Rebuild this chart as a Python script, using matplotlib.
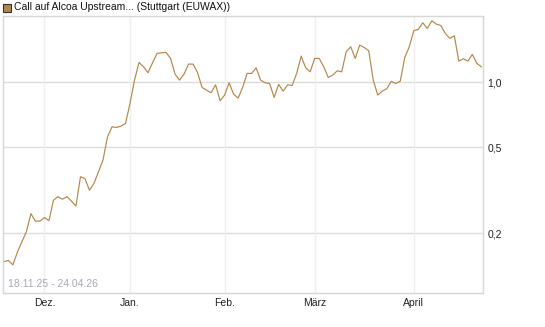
import numpy as np
import matplotlib.pyplot as plt
from matplotlib.patches import Rectangle

plt.rcParams['font.family'] = ['Liberation Sans', 'DejaVu Sans']

# daily closing values (one per trading day, 18.11.25 - 24.04.26)
values = [0.148, 0.150, 0.143, 0.164, 0.183, 0.204, 0.247, 0.228, 0.228, 0.237,
          0.229, 0.285, 0.296, 0.288, 0.296, 0.282, 0.268, 0.366, 0.359, 0.317,
          0.341, 0.386, 0.437, 0.560, 0.623, 0.619, 0.628, 0.646, 0.799, 1.025,
          1.238, 1.182, 1.109, 1.233, 1.362, 1.372, 1.377, 1.292, 1.093, 1.025,
          1.093, 1.216, 1.216, 1.109, 0.948, 0.921, 0.896, 0.975, 0.823, 0.874,
          0.996, 0.883, 0.846, 0.948, 1.101, 1.101, 1.169, 1.025, 0.996, 0.989,
          0.852, 0.979, 0.912, 0.975, 0.968, 1.101, 1.324, 1.169, 1.120, 1.292,
          1.292, 1.182, 1.055, 1.081, 1.132, 1.120, 1.387, 1.463, 1.292, 1.489,
          1.452, 1.402, 1.025, 0.874, 0.912, 0.935, 1.011, 0.989, 1.014, 1.305,
          1.463, 1.735, 1.760, 1.889, 1.778, 1.930, 1.862, 1.836, 1.686, 1.599,
          1.645, 1.255, 1.287, 1.255, 1.348, 1.225, 1.182]

# first trading day of each month (index into values)
month_idx = [9, 28, 49, 69, 91]
month_labels = ['Dez.', 'Jan.', 'Feb.', 'März', 'April']

y_ticks = [0.2, 0.5, 1.0]
y_labels = ['0,2', '0,5', '1,0']

title = 'Call auf Alcoa Upstream... (Stuttgart (EUWAX))'
date_range = '18.11.25 - 24.04.26'
line_color = '#b5874a'

fig = plt.figure(figsize=(5.45, 3.27), dpi=100)
ax = fig.add_axes([0.0055, 0.104, 0.881, 0.847])

x = np.arange(len(values))
ax.plot(x, values, color=line_color, linewidth=0.85)

ax.set_yscale('log')
ax.set_ylim(0.106, 2.03)
ax.set_xlim(-0.2, 106.4)

ax.set_yticks(y_ticks)
ax.set_yticklabels(y_labels)
ax.yaxis.set_minor_locator(plt.NullLocator())
ax.yaxis.tick_right()
ax.set_xticks(month_idx)
ax.set_xticklabels(month_labels)
ax.tick_params(axis='both', length=0, labelsize=7.5, colors='#222222')
ax.tick_params(axis='y', pad=3)
ax.tick_params(axis='x', pad=3.5)

for v in y_ticks:
    ax.axhline(v, color='#dcdcdc', linewidth=1.0, zorder=0)
for m in month_idx:
    ax.axvline(m, color='#efefef', linewidth=1.0, zorder=0)

for s in ax.spines.values():
    s.set_color('#d6d6d6')
    s.set_linewidth(1.0)

ax.text(0.011, 0.015, date_range, transform=ax.transAxes, fontsize=7.5,
        color='#a8a8b8', ha='left', va='bottom')

# legend box at the top
fig.patches.append(Rectangle((3 / 545, 1 - 12 / 327), 8 / 545, 8 / 327,
                             transform=fig.transFigure, facecolor=line_color,
                             edgecolor='#333333', linewidth=0.8))
fig.text(14 / 545, 1 - 7 / 327, title, fontsize=7.5, color='#111111',
         ha='left', va='center')

fig.savefig('out.png', dpi=100)
